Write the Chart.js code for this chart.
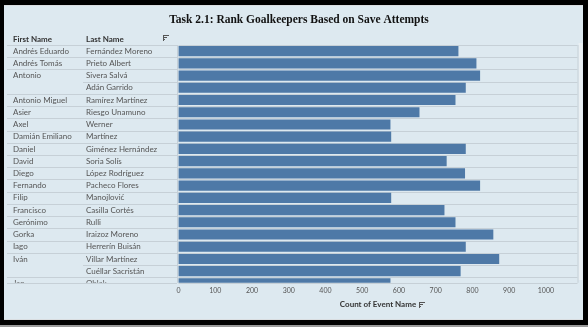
<!DOCTYPE html>
<html lang="en">
  <head>
    <meta charset="UTF-8" />
    <meta name="viewport" content="width=device-width, initial-scale=1.0" />
    <title>Rank Goalkeepers Based on Save Attempts</title>
    <script src="https://cdn.jsdelivr.net/npm/chart.js"></script>
    <style>
      html, body { margin: 0; padding: 0; background: #000; }
      #wrap { width: 588px; height: 327px; position: relative; }
    </style>
  </head>
  <body>
    <div id="wrap"><canvas id="saveChart" width="588" height="327"></canvas></div>

    <script>
      // Goalkeepers (first name blank where the row shares the name above)
      const firstNames = [
        "Andrés Eduardo", "Andrés Tomás", "Antonio", "", "Antonio Miguel",
        "Asier", "Axel", "Damián Emiliano", "Daniel", "David", "Diego",
        "Fernando", "Filip", "Francisco", "Gerónimo", "Gorka", "Iago",
        "Iván", "", "Jan",
      ];
      const lastNames = [
        "Fernández Moreno", "Prieto Albert", "Sivera Salvá", "Adán Garrido",
        "Ramírez Martínez", "Riesgo Unamuno", "Werner", "Martínez",
        "Giménez Hernández", "Soria Solís", "López Rodríguez", "Pacheco Flores",
        "Manojlović", "Casilla Cortés", "Rulli", "Iraizoz Moreno",
        "Herrerín Buisán", "Villar Martínez", "Cuéllar Sacristán", "Oblak",
      ];
      // Count of Event Name
      const saveAttempts = [
        761, 810, 820, 781, 753, 655, 576, 578, 781, 729,
        779, 820, 578, 723, 753, 856, 781, 872, 767, 576,
      ];
      const axisTicks = [0, 100, 200, 300, 400, 500, 600, 700, 800, 900, 1000];

      const BG = "#dde9f0";
      const LINE = "#c6d0d7";
      const TEXT = "#555555";

      function sortIcon(ctx, x, y) {
        ctx.save();
        ctx.strokeStyle = "#555";
        ctx.lineWidth = 1;
        ctx.beginPath();
        ctx.moveTo(x, y + 0.5); ctx.lineTo(x + 6, y + 0.5);
        ctx.moveTo(x, y + 2.5); ctx.lineTo(x + 4, y + 2.5);
        ctx.moveTo(x, y + 4.5); ctx.lineTo(x + 2, y + 4.5);
        ctx.moveTo(x + 0.5, y); ctx.lineTo(x + 0.5, y + 6);
        ctx.stroke();
        ctx.restore();
      }

      // Frame, title, name table and row rules
      const sheetPlugin = {
        id: "sheet",
        beforeDraw(chart) {
          const ctx = chart.ctx;
          const y = chart.scales.y;
          const area = chart.chartArea;
          ctx.save();
          ctx.fillStyle = "#000";
          ctx.fillRect(0, 0, 588, 327);
          ctx.fillStyle = "#9a9a9a";
          ctx.fillRect(0, 325, 588, 2);
          ctx.fillStyle = "#d9dde0";
          ctx.fillRect(4, 5, 579, 315);
          ctx.fillStyle = BG;
          ctx.fillRect(4, 6, 579, 313);

          // scrollbar track
          ctx.fillStyle = "#eaf0f3";
          ctx.fillRect(578.5, 43, 4, 237);

          ctx.fillStyle = "#111";
          ctx.font = "bold 11.5px 'Liberation Serif'";
          ctx.textAlign = "center";
          ctx.textBaseline = "middle";
          ctx.fillText("Task 2.1: Rank Goalkeepers Based on Save Attempts", 299, 20);

          ctx.fillStyle = "#333";
          ctx.font = "bold 8px Lato";
          ctx.textAlign = "left";
          ctx.fillText("First Name", 13, 39);
          ctx.fillText("Last Name", 86, 39);
          sortIcon(ctx, 163, 35);

          // row rules
          ctx.strokeStyle = LINE;
          ctx.lineWidth = 1;
          ctx.beginPath();
          for (let i = -1; i < lastNames.length; i++) {
            const py = Math.round(y.getPixelForValue(i + 0.5)) + 0.5;
            if (py > area.bottom + 1) break;
            const tx = i >= 0 && firstNames[i + 1] === "" ? 83 : 7;
            ctx.moveTo(tx, py); ctx.lineTo(177, py);
            ctx.moveTo(area.left, py); ctx.lineTo(area.right, py);
          }
          const by = Math.round(area.bottom) + 0.5;
          ctx.moveTo(7, by); ctx.lineTo(177, by);
          ctx.moveTo(area.left, by); ctx.lineTo(area.right, by);
          ctx.moveTo(177.5, area.top); ctx.lineTo(177.5, area.bottom);
          ctx.moveTo(area.right + 0.5, area.top); ctx.lineTo(area.right + 0.5, area.bottom);
          ctx.stroke();

          // names, clipped at the bottom of the pane
          ctx.beginPath();
          ctx.rect(0, area.top, 177, area.bottom - area.top);
          ctx.clip();
          ctx.fillStyle = TEXT;
          ctx.font = "8px Lato";
          lastNames.forEach((last, i) => {
            const py = y.getPixelForValue(i);
            if (firstNames[i]) ctx.fillText(firstNames[i], 13, py);
            ctx.fillText(last, 86, py);
          });
          ctx.restore();
        },
        afterDraw(chart) {
          sortIcon(chart.ctx, 419, 302);
        },
      };

      new Chart(document.getElementById("saveChart"), {
        type: "bar",
        data: {
          datasets: [
            {
              label: "Count of Event Name",
              data: saveAttempts.map((v, i) => ({ x: v, y: i })),
              backgroundColor: "#4e79a7",
              borderWidth: 0,
              barThickness: 9.5,
            },
          ],
        },
        options: {
          indexAxis: "y",
          responsive: false,
          animation: false,
          layout: { padding: { left: 178.5, right: 10.5, top: 45, bottom: 17.8 } },
          plugins: { legend: { display: false }, tooltip: { enabled: false } },
          scales: {
            y: {
              type: "linear",
              reverse: true,
              offset: false,
              min: -0.5,
              max: 18.95,
              display: false,
              grid: { offset: false },
            },
            x: {
              min: 0,
              max: 1086,
              afterBuildTicks: (scale) => {
                scale.ticks = axisTicks.map((v) => ({ value: v }));
              },
              grid: { display: false, drawTicks: false },
              border: { display: false },
              ticks: {
                padding: 4,
                color: "#555",
                font: { family: "Lato", size: 7 },
                maxRotation: 0,
                callback: (v) => String(v),
              },
              title: {
                display: true,
                text: "Count of Event Name",
                color: "#333",
                font: { family: "Lato", size: 8, weight: "bold" },
                padding: { top: 0.4, bottom: 0 },
              },
            },
          },
        },
        plugins: [sheetPlugin],
      });
    </script>
  </body>
</html>
